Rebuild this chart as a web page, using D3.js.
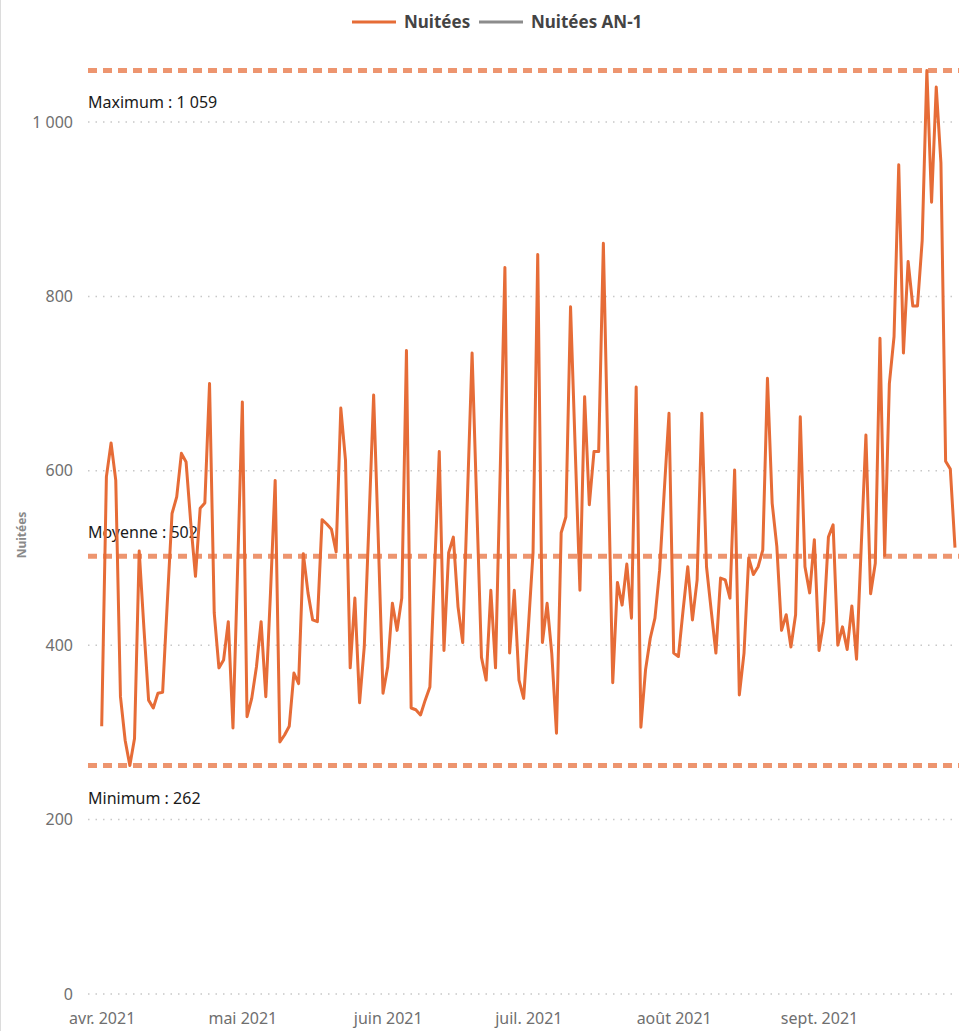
<html>
<script src="https://d3js.org/d3.v7.min.js"></script>
<style>
body { margin: 0; background: #fff; }
text { font-family: "Noto Sans", "Open Sans", sans-serif; }
</style>
<body>
<script>
// daily values, 1 Apr 2021 -> 30 Sep 2021
var startDate = "2021-04-01";
var nuitees = [
  307, 593, 632, 589, 341, 291, 262, 293, 508, 420,
  337, 328, 345, 346, 450, 551, 570, 620, 610, 540,
  479, 557, 563, 700, 437, 374, 383, 427, 305, 490,
  679, 318, 339, 375, 427, 341, 460, 589, 289, 297,
  307, 368, 356, 505, 460, 429, 427, 544, 539, 533,
  507, 672, 612, 374, 454, 334, 398, 540, 687, 520,
  345, 375, 448, 417, 454, 738, 328, 326, 320, 337,
  352, 486, 622, 394, 506, 524, 444, 403, 569, 735,
  560, 386, 360, 463, 374, 600, 833, 391, 463, 360,
  339, 420, 506, 848, 403, 448, 390, 299, 529, 547,
  788, 624, 463, 685, 561, 622, 622, 861, 610, 357,
  472, 446, 493, 431, 696, 306, 372, 408, 431, 486,
  578, 666, 391, 387, 440, 490, 429, 475, 666, 490,
  440, 391, 477, 475, 454, 601, 343, 391, 500, 481,
  490, 509, 706, 563, 513, 417, 435, 398, 435, 662,
  490, 460, 521, 394, 427, 524, 538, 400, 421, 395,
  445, 384, 513, 641, 459, 494, 752, 503, 700, 754,
  951, 735, 840, 789, 789, 864, 1059, 908, 1040, 953,
  611, 602, 512
];
var refLabels = ["Maximum", "Moyenne", "Minimum"];
var refValues = [1059, 502, 262];
var yTicks = [0, 200, 400, 600, 800, 1000];
var monthLabels = ["avr. 2021", "mai 2021", "juin 2021", "juil. 2021", "août 2021", "sept. 2021"];
var legendNames = ["Nuitées", "Nuitées AN-1"];

var w = 959, h = 1031;
var orange = "#E66C37";

var fr = d3.formatLocale({decimal: ",", thousands: " ", grouping: [3], currency: ["", " €"]});
var fmt = fr.format(",d");

var t0 = d3.timeParse("%Y-%m-%d")(startDate);
var data = nuitees.map(function(v, i) { return {date: d3.timeDay.offset(t0, i), value: v}; });

var svg = d3.select("body").append("svg")
  .attr("width", w)
  .attr("height", h);

// left border
svg.append("line").attr("x1", 0.5).attr("x2", 0.5).attr("y1", 0).attr("y2", h)
  .attr("stroke", "#dcdcdc");

var xScale = d3.scaleTime()
  .domain([data[0].date, data[data.length - 1].date])
  .range([101.7, 955]);

var yScale = d3.scaleLinear()
  .domain([0, 1000])
  .range([994, 122]);

// gridlines
svg.append("g").selectAll("line")
  .data(yTicks)
  .enter().append("line")
  .attr("x1", 88).attr("x2", 955)
  .attr("y1", function(d) { return yScale(d); })
  .attr("y2", function(d) { return yScale(d); })
  .attr("stroke", "#c8c8c8")
  .attr("stroke-width", 1.5)
  .attr("stroke-dasharray", "1.5,6");

// y axis labels
var yAxis = d3.axisLeft(yScale).tickValues(yTicks).tickFormat(fmt).tickSize(0).tickPadding(0);
var gy = svg.append("g").attr("transform", "translate(73,0)").call(yAxis);
gy.select(".domain").remove();
gy.selectAll("text").attr("fill", "#6f6f6f").style("font-size", "16px")
  .style("font-family", "'Noto Sans', sans-serif");

svg.append("text")
  .attr("transform", "translate(26,535) rotate(-90)")
  .style("text-anchor", "middle")
  .style("font-size", "12px")
  .style("font-weight", "bold")
  .attr("fill", "#8a8a8a")
  .text("Nuitées");

// x axis labels
var monthTicks = d3.timeMonth.range(data[0].date, d3.timeDay.offset(data[data.length - 1].date, 1));
var xAxis = d3.axisBottom(xScale).tickValues(monthTicks)
  .tickFormat(function(d, i) { return monthLabels[i]; })
  .tickSize(0).tickPadding(0);
var gx = svg.append("g").attr("transform", "translate(0,1013)").call(xAxis);
gx.select(".domain").remove();
gx.selectAll("text").attr("fill", "#6f6f6f").style("font-size", "16px")
  .style("font-family", "'Noto Sans', sans-serif");

// reference lines
svg.append("g").selectAll("line")
  .data(refValues)
  .enter().append("line")
  .attr("x1", 88).attr("x2", w)
  .attr("y1", function(d) { return yScale(d); })
  .attr("y2", function(d) { return yScale(d); })
  .attr("stroke", orange)
  .attr("stroke-opacity", 0.72)
  .attr("stroke-width", 5)
  .attr("stroke-dasharray", "9,6");

var labelOffset = [37, -18, 38];
svg.append("g").selectAll("text")
  .data(refValues)
  .enter().append("text")
  .attr("x", 88)
  .attr("y", function(d, i) { return yScale(d) + labelOffset[i]; })
  .style("font-size", "16px")
  .attr("fill", "#1a1a1a")
  .text(function(d, i) { return refLabels[i] + " : " + fmt(d); });

// main line
var line = d3.line()
  .x(function(d) { return xScale(d.date); })
  .y(function(d) { return yScale(d.value); });

svg.append("path")
  .datum(data)
  .attr("d", line)
  .attr("fill", "none")
  .attr("stroke", orange)
  .attr("stroke-width", 3)
  .attr("stroke-linejoin", "round");

// legend
var legendColors = [orange, "#8c8c8c"];
var legendX = [352, 479];
var lg = svg.append("g").selectAll("g")
  .data(legendNames)
  .enter().append("g")
  .attr("transform", function(d, i) { return "translate(" + legendX[i] + ",22)"; });
lg.append("line").attr("x1", 0).attr("x2", 44).attr("y1", 0).attr("y2", 0)
  .attr("stroke", function(d, i) { return legendColors[i]; })
  .attr("stroke-width", 3);
lg.append("text").attr("x", 52).attr("y", 6)
  .style("font-size", "17px")
  .style("font-weight", "bold")
  .attr("fill", "#444")
  .text(function(d) { return d; });
</script>
</body>
</html>
